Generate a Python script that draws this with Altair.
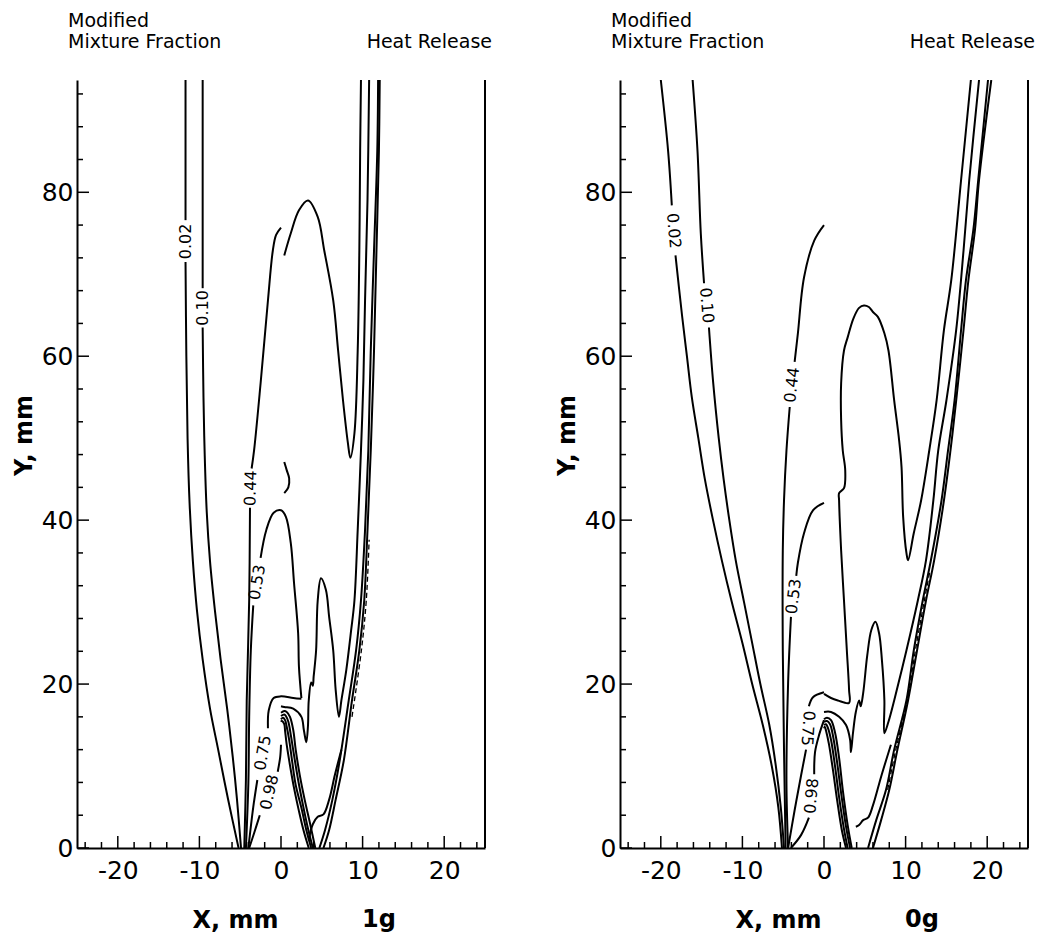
import altair as alt
import pandas as pd

# ---------------- axis tick positions ----------------
X_MAJOR = [-20, -10, 0, 10, 20]
X_MINOR = [-24, -22, -18, -16, -14, -12, -8, -6, -4, -2, 2, 4, 6, 8, 12, 14, 16, 18, 22, 24]
Y_MAJOR = [0, 20, 40, 60, 80]
Y_MINOR = [4, 8, 12, 16, 24, 28, 32, 36, 44, 48, 52, 56, 64, 68, 72, 76, 84, 88, 92]

# ---------------- left panel (1g) : modified mixture fraction (x<0) ----------------
G1_MF002_UP = [(-11.7, 93.7), (-11.7, 76.6)]
G1_MF002_LO = [(-11.7, 71.5), (-11.6, 60.0), (-11.45, 50.0), (-11.2, 42.0), (-10.8, 35.0),
               (-10.3, 29.0), (-9.6, 23.0), (-8.7, 17.0), (-7.7, 12.0), (-6.5, 6.0), (-5.2, 0.0)]
G1_MF010_UP = [(-9.6, 93.7), (-9.6, 68.3)]
G1_MF010_LO = [(-9.6, 63.5), (-9.5, 55.0), (-9.35, 48.0), (-9.1, 41.0), (-8.7, 35.0),
               (-8.1, 29.0), (-7.4, 23.0), (-6.6, 17.0), (-5.9, 11.0), (-5.4, 6.0), (-4.9, 0.0)]
G1_MF044_UP = [(0.0, 75.7), (-0.6, 74.8), (-1.0, 72.9), (-1.6, 66.8), (-2.5, 56.7),
               (-3.3, 48.5), (-3.6, 46.3)]
G1_MF044_LO = [(-3.8, 41.5), (-3.9, 30.2), (-4.2, 18.0), (-4.3, 8.3), (-4.5, 0.0)]
G1_MF053_LO = [(-4.3, 0.0), (-4.0, 7.9), (-3.9, 16.0), (-3.7, 24.1), (-3.4, 29.6)]
G1_MF053_UP = [(-2.5, 35.4), (-1.8, 38.8), (-0.9, 40.9), (0.0, 41.2), (0.6, 40.4),
               (1.2, 37.2), (1.6, 32.3), (2.1, 26.2), (2.2, 22.1), (2.5, 18.3)]
G1_MF075_LO = [(-4.0, 0.0), (-3.4, 5.0), (-2.9, 8.3)]
G1_MF075_UP = [(-1.6, 14.6), (-1.5, 16.8), (-0.9, 18.3), (0.0, 18.5), (1.5, 18.3), (2.5, 18.2)]
G1_MF098_LO = [(-3.9, 0.0), (-3.3, 1.8), (-2.6, 4.0)]
G1_MF098_UP = [(-0.4, 9.3), (-0.1, 11.1), (0.0, 12.6)]

# left panel : heat release (x>0)
G1_HR_PIECE = [(0.4, 47.1), (0.7, 46.1), (1.0, 45.1), (0.9, 44.0), (0.4, 43.3)]
G1_HR_LOOP = [(0.4, 72.3), (1.2, 75.0), (2.2, 77.8), (3.3, 79.0), (4.5, 77.0), (5.3, 72.9),
              (6.4, 66.8), (7.0, 60.7), (7.6, 54.6), (8.2, 49.4), (8.5, 47.6), (9.0, 50.6),
              (9.4, 60.7), (9.6, 72.9), (9.7, 85.1), (9.8, 93.7)]
G1_HR_FINGER = [(0.0, 17.3), (0.4, 17.2), (1.5, 17.0), (2.5, 16.0), (2.8, 14.4), (3.1, 12.9),
                (3.3, 14.8), (3.4, 18.0), (3.7, 20.2), (3.9, 19.8), (4.0, 20.9), (4.3, 24.1),
                (4.5, 30.2), (4.9, 32.9), (5.5, 31.5), (5.9, 28.2), (6.4, 24.1), (6.7, 19.3),
                (7.1, 16.0), (7.4, 18.0), (8.0, 21.7), (8.6, 26.6), (9.0, 30.2), (9.4, 38.8),
                (9.8, 48.5), (10.1, 57.1), (10.3, 66.8), (10.6, 79.0), (10.8, 93.7)]
G1_HR_B1 = [(4.7, 0.0), (5.4, 2.2), (6.3, 5.9), (7.2, 10.7), (8.3, 18.0), (9.2, 24.1),
            (9.8, 30.2), (10.3, 38.8), (10.7, 48.5), (11.0, 60.7), (11.4, 72.9), (11.8, 85.1),
            (11.9, 93.7)]
G1_HR_B2 = [(5.2, 0.0), (5.9, 2.2), (6.7, 5.9), (7.7, 10.7), (8.7, 18.0), (9.6, 24.1),
            (10.2, 30.2), (10.6, 38.8), (11.0, 48.5), (11.4, 60.7), (11.7, 72.9), (12.0, 85.1),
            (12.1, 93.7)]
G1_HR_KINK = [(3.4, 1.0), (3.9, 2.9), (4.5, 3.8), (5.2, 4.1), (5.9, 5.9), (6.6, 8.9), (7.4, 12.0)]
G1_HR_IF1 = [(0.0, 16.5), (0.4, 16.7), (0.7, 16.6), (1.1, 16.0), (1.5, 14.4), (1.8, 12.0),
             (2.3, 8.9), (2.9, 5.9), (3.6, 2.8), (4.2, 0.0)]
G1_HR_IF2 = [(0.0, 16.1), (0.4, 16.3), (0.6, 16.1), (0.9, 15.4), (1.2, 13.8), (1.6, 11.3),
             (2.1, 8.3), (2.7, 5.2), (3.3, 2.4), (3.9, 0.0)]
G1_HR_IF3 = [(0.0, 15.7), (0.25, 15.9), (0.5, 15.6), (0.7, 14.8), (1.0, 13.2), (1.35, 10.7),
             (1.8, 7.7), (2.5, 4.9), (3.1, 2.2), (3.7, 0.0)]
G1_HR_IF4 = [(0.0, 15.4), (0.1, 15.5), (0.4, 15.1), (0.5, 14.3), (0.7, 12.6), (1.1, 10.1),
             (1.6, 7.3), (2.2, 4.5), (2.8, 2.0), (3.4, 0.0)]
G1_HR_DASH = [(8.7, 16.0), (9.85, 24.1), (10.45, 30.2), (10.8, 37.6)]

G1_LABEL_TEXT = ["0.02", "0.10", "0.44", "0.53", "0.75", "0.98"]
G1_LABEL_X = [-11.7, -9.6, -3.7, -2.9, -2.2, -1.4]
G1_LABEL_Y = [74.0, 65.9, 43.9, 32.4, 11.6, 6.8]
G1_LABEL_ANGLE = [270, 270, 272, 280, 280, 283]

# ---------------- right panel (0g) ----------------
G0_MF002_UP = [(-20.0, 93.7), (-19.1, 85.0), (-18.65, 78.4)]
G0_MF002_LO = [(-18.2, 72.3), (-17.4, 65.0), (-16.8, 60.0), (-16.2, 55.0), (-15.4, 50.0),
               (-14.6, 45.0), (-13.6, 40.0), (-12.5, 35.0), (-11.3, 30.0), (-10.0, 25.0),
               (-8.8, 20.0), (-7.5, 15.0), (-6.4, 10.0), (-5.6, 5.0), (-5.15, 0.0)]
G0_MF010_UP = [(-16.1, 93.7), (-15.5, 85.0), (-15.1, 75.0), (-14.7, 68.9)]
G0_MF010_LO = [(-14.1, 63.5), (-13.6, 57.0), (-12.9, 50.0), (-12.3, 45.0), (-11.6, 40.0),
               (-10.8, 35.0), (-9.8, 30.0), (-8.8, 25.0), (-7.8, 20.0), (-6.7, 15.0),
               (-5.9, 10.0), (-5.3, 5.0), (-4.9, 0.0)]
G0_MF044_UP = [(0.0, 76.0), (-1.2, 74.1), (-2.45, 69.6), (-3.2, 62.8), (-3.6, 59.3)]
G0_MF044_LO = [(-4.2, 53.8), (-4.6, 48.5), (-4.9, 42.4), (-5.05, 36.3), (-5.05, 24.1),
               (-4.9, 12.0), (-4.7, 0.0)]
G0_MF053_UP = [(0.0, 42.1), (-1.35, 41.2), (-2.45, 38.4), (-3.2, 34.8), (-3.4, 33.2)]
G0_MF053_LO = [(-4.05, 28.2), (-4.4, 20.1), (-4.6, 7.9), (-4.4, 0.0)]
G0_MF075_UP = [(0.0, 19.0), (-1.35, 18.4), (-1.85, 17.3)]
G0_MF075_LO = [(-2.2, 12.0), (-2.8, 8.9), (-3.6, 4.6), (-4.4, 0.0)]
G0_MF098_UP = [(0.0, 15.6), (-0.6, 13.8), (-1.1, 11.7), (-1.2, 9.0)]
G0_MF098_LO = [(-1.85, 3.7), (-2.8, 1.6), (-4.05, 0.0)]

G0_HR_LOOP = [(0.0, 18.8), (0.86, 18.3), (1.7, 18.0), (3.07, 17.7), (3.07, 19.3), (2.8, 24.1),
              (2.45, 30.2), (2.1, 36.3), (1.85, 42.4), (1.85, 43.3), (2.45, 43.9), (2.6, 46.1),
              (2.3, 48.5), (2.1, 52.2), (2.1, 56.7), (2.45, 60.7), (2.9, 62.3), (3.6, 64.6),
              (4.3, 65.9), (4.9, 66.2), (5.5, 66.0), (6.0, 65.4), (6.6, 64.8), (7.4, 62.8),
              (7.9, 60.7), (8.6, 54.6), (9.2, 49.8), (9.5, 46.5), (9.7, 40.4), (10.1, 36.0),
              (10.3, 35.1), (11.0, 38.4), (11.9, 42.4), (12.9, 48.5), (13.8, 54.6), (14.7, 63.2),
              (15.6, 69.3), (16.8, 81.5), (18.0, 93.7)]
G0_HR_FINGER = [(0.0, 16.6), (0.86, 16.6), (1.85, 16.0), (2.7, 15.0), (3.2, 13.2), (3.3, 11.7),
                (3.55, 14.0), (3.9, 16.6), (4.3, 18.0), (4.5, 17.3), (4.8, 18.9), (5.3, 23.5),
                (5.8, 26.6), (6.3, 27.6), (6.75, 26.2), (7.1, 22.9), (7.4, 18.0), (7.4, 14.0),
                (7.9, 15.4), (8.6, 18.0), (10.1, 24.1), (11.5, 30.2), (12.5, 35.1), (13.4, 42.4),
                (14.0, 48.5), (15.0, 54.6), (16.2, 63.2), (17.1, 72.9), (17.8, 81.5), (19.0, 93.7)]
G0_HR_T3 = [(5.4, 0.0), (6.4, 3.4), (7.6, 7.1), (8.6, 12.0), (10.1, 18.0), (11.0, 24.1),
            (12.1, 30.2), (13.1, 35.1), (14.4, 42.4), (15.2, 48.5), (16.0, 54.6), (16.8, 63.2),
            (17.4, 69.3), (18.3, 75.4), (18.9, 81.5), (20.1, 93.7)]
G0_HR_T4 = [(6.0, 0.0), (7.0, 3.4), (8.0, 7.1), (9.0, 12.0), (10.3, 18.0), (11.4, 24.1),
            (12.5, 30.2), (13.5, 35.1), (14.7, 42.4), (15.5, 48.5), (16.2, 54.6), (17.1, 63.2),
            (17.7, 69.3), (18.5, 75.4), (19.0, 81.5), (20.5, 93.7)]
G0_HR_KINK = [(3.9, 2.6), (4.3, 2.8), (4.8, 3.4), (5.4, 3.7), (6.0, 5.2), (7.0, 8.7), (8.2, 12.6)]
G0_HR_IF1 = [(0.0, 15.7), (0.37, 15.9), (0.86, 15.6), (1.35, 14.1), (1.85, 11.0), (2.3, 7.1),
             (2.9, 2.8), (3.4, 0.0)]
G0_HR_IF2 = [(0.0, 15.4), (0.37, 15.5), (0.74, 15.1), (1.1, 13.7), (1.6, 10.5), (2.1, 6.7),
             (2.7, 2.6), (3.2, 0.0)]
G0_HR_IF3 = [(0.0, 15.0), (0.25, 15.1), (0.5, 14.6), (0.86, 13.2), (1.35, 10.0), (1.85, 6.2),
             (2.45, 2.3), (2.9, 0.0)]
G0_HR_IF4 = [(0.0, 14.6), (0.1, 14.8), (0.25, 14.3), (0.6, 12.7), (1.1, 9.5), (1.6, 5.9),
             (2.2, 2.1), (2.7, 0.0)]
G0_HR_DASH = [(7.8, 7.1), (8.8, 12.0), (10.2, 18.0), (11.2, 24.1), (12.3, 30.2), (13.0, 33.9)]

G0_LABEL_TEXT = ["0.02", "0.10", "0.44", "0.53", "0.75", "0.98"]
G0_LABEL_X = [-18.45, -14.4, -3.9, -3.7, -2.0, -1.5]
G0_LABEL_Y = [75.3, 66.2, 56.5, 30.7, 14.6, 6.35]
G0_LABEL_ANGLE = [85, 85, 277, 277, 94, 275]

# ---------------- chart construction ----------------
W, H = 408, 768
FONT = "DejaVu Sans"
XS = alt.Scale(domain=[-25, 25], nice=False, zero=False)
YS = alt.Scale(domain=[0, 93.7], nice=False, zero=False)

X_AXIS = alt.Axis(values=X_MAJOR, ticks=False, grid=False, domain=True, domainColor="black",
                  domainWidth=2, labelFont=FONT, labelFontSize=25, labelColor="black",
                  labelPadding=10, labelFlush=False, labelExpr="'' + datum.value",
                  title="X, mm", titleFont=FONT, titleFontSize=24, titleFontWeight="bold",
                  titleColor="black", titleX=158, titleY=79, titleBaseline="alphabetic",
                  titleAlign="center")
Y_AXIS = alt.Axis(values=Y_MAJOR, ticks=False, grid=False, domain=True, domainColor="black",
                  domainWidth=2, labelFont=FONT, labelFontSize=25, labelColor="black",
                  labelPadding=4, labelFlush=False, title="Y, mm", titleFont=FONT,
                  titleFontSize=24, titleFontWeight="bold", titleColor="black",
                  titleX=-46, titleY=355, titleAngle=270, titleBaseline="alphabetic",
                  titleAlign="center")


def strokes_df(strokes):
    rows = []
    for k, pts in enumerate(strokes):
        for i, (x, y) in enumerate(pts):
            rows.append({"s": k, "i": i, "x": x, "y": y})
    return pd.DataFrame(rows)


def XE(field):
    return alt.X(field, scale=XS, axis=X_AXIS)


def YE(field):
    return alt.Y(field, scale=YS, axis=Y_AXIS)


def panel(solid, dashed, ltext, lx, ly, lang, gtag):
    lines = alt.Chart(strokes_df(solid)).mark_line(
        color="black", strokeWidth=2, interpolate="catmull-rom", clip=True
    ).encode(x=XE("x:Q"), y=YE("y:Q"), detail="s:N", order="i:Q")
    dash = alt.Chart(strokes_df(dashed)).mark_line(
        color="black", strokeWidth=1.3, strokeDash=[5, 3], interpolate="catmull-rom", clip=True
    ).encode(x=XE("x:Q"), y=YE("y:Q"), detail="s:N", order="i:Q")
    lab = alt.Chart(pd.DataFrame({"t": ltext, "x": lx, "y": ly, "a": lang})).mark_text(
        font=FONT, fontSize=16, color="black", align="center", baseline="middle"
    ).encode(x=XE("x:Q"), y=YE("y:Q"), text="t:N", angle=alt.Angle("a:Q", scale=None))
    xmaj = alt.Chart(pd.DataFrame({"x": X_MAJOR})).mark_rule(color="black", strokeWidth=1.5).encode(
        x=XE("x:Q"), y=alt.value(H), y2=alt.value(H - 12))
    xmin = alt.Chart(pd.DataFrame({"x": X_MINOR})).mark_rule(color="black", strokeWidth=1.5).encode(
        x=XE("x:Q"), y=alt.value(H), y2=alt.value(H - 6))
    ymaj = alt.Chart(pd.DataFrame({"y": Y_MAJOR})).mark_rule(color="black", strokeWidth=1.5).encode(
        y=YE("y:Q"), x=alt.value(0), x2=alt.value(12))
    ymin = alt.Chart(pd.DataFrame({"y": Y_MINOR})).mark_rule(color="black", strokeWidth=1.5).encode(
        y=YE("y:Q"), x=alt.value(0), x2=alt.value(6))
    border = alt.Chart(pd.DataFrame({"v": [0]})).mark_rule(color="black", strokeWidth=2).encode(
        x=alt.value(W), y=alt.value(0), y2=alt.value(H))

    def txt(s, x, y, align="left", size=19, weight="normal"):
        return alt.Chart(pd.DataFrame({"v": [0]})).mark_text(
            font=FONT, fontSize=size, fontWeight=weight, color="black", align=align,
            baseline="alphabetic", lineBreak="\n", lineHeight=21
        ).encode(x=alt.value(x), y=alt.value(y), text=alt.value(s))

    t1 = txt("Modified\nMixture Fraction", -9, -53)
    t3 = txt("Heat Release", 415, -32, align="right")
    t4 = txt(gtag, 302, H + 79, align="center", size=24, weight="bold")

    return alt.layer(lines, dash, lab, xmaj, xmin, ymaj, ymin, border, t1, t3, t4).properties(
        width=W, height=H)


left = panel(
    [G1_MF002_UP, G1_MF002_LO, G1_MF010_UP, G1_MF010_LO, G1_MF044_UP, G1_MF044_LO,
     G1_MF053_LO, G1_MF053_UP, G1_MF075_LO, G1_MF075_UP, G1_MF098_LO, G1_MF098_UP,
     G1_HR_PIECE, G1_HR_LOOP, G1_HR_FINGER, G1_HR_B1, G1_HR_B2, G1_HR_KINK,
     G1_HR_IF1, G1_HR_IF2, G1_HR_IF3, G1_HR_IF4],
    [G1_HR_DASH],
    G1_LABEL_TEXT, G1_LABEL_X, G1_LABEL_Y, G1_LABEL_ANGLE, "1g")

right = panel(
    [G0_MF002_UP, G0_MF002_LO, G0_MF010_UP, G0_MF010_LO, G0_MF044_UP, G0_MF044_LO,
     G0_MF053_UP, G0_MF053_LO, G0_MF075_UP, G0_MF075_LO, G0_MF098_UP, G0_MF098_LO,
     G0_HR_LOOP, G0_HR_FINGER, G0_HR_T3, G0_HR_T4, G0_HR_KINK,
     G0_HR_IF1, G0_HR_IF2, G0_HR_IF3, G0_HR_IF4],
    [G0_HR_DASH],
    G0_LABEL_TEXT, G0_LABEL_X, G0_LABEL_Y, G0_LABEL_ANGLE, "0g")

chart = alt.hconcat(left, right, spacing=135, bounds="flush").properties(
    padding={"left": 4, "top": 4, "right": 0, "bottom": 0}
).configure(background="white", view=alt.ViewConfig(stroke=None))

chart.save("out.html", embed_options={"renderer": "svg", "actions": False})
